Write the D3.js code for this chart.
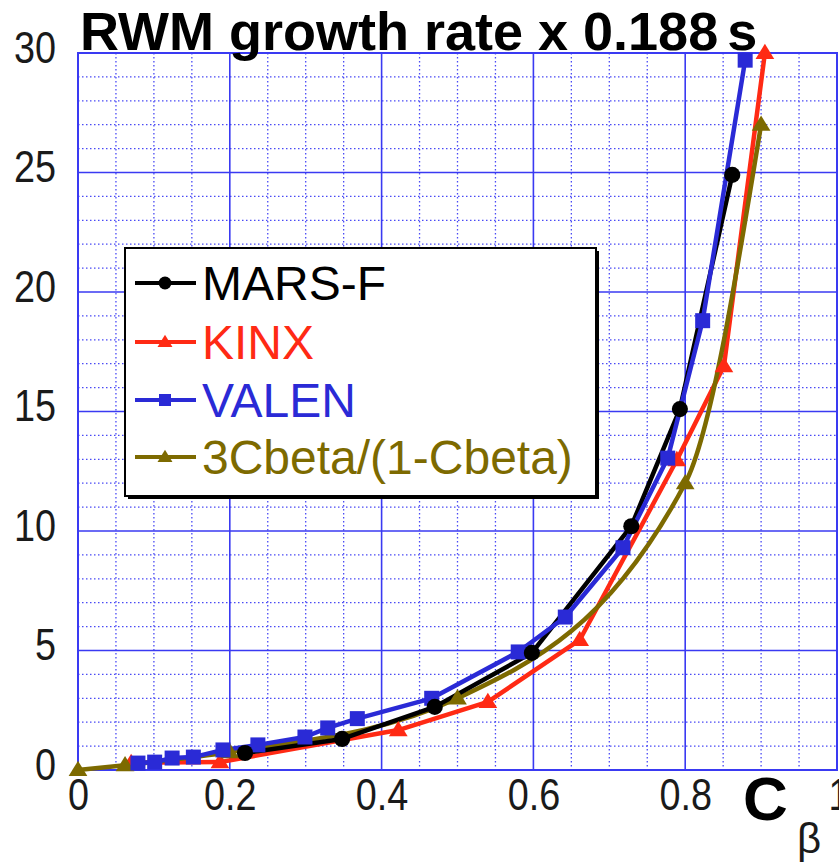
<!DOCTYPE html>
<html>
<head>
<meta charset="utf-8">
<script src="https://cdn.jsdelivr.net/npm/d3@7/dist/d3.min.js"></script>
<style>
  html, body { margin: 0; padding: 0; background: #fff; }
  svg { display: block; }
</style>
</head>
<body>
<svg id="chart" width="839" height="863"></svg>
<script>
// Growth-rate data (x = C_beta, y = growth rate x 0.188 s)
const marsC  = [0.22, 0.348, 0.47, 0.598, 0.729, 0.793, 0.862];
const marsG  = [0.71, 1.3, 2.64, 4.9, 10.2, 15.1, 24.9];

const kinxC  = [0.07, 0.187, 0.422, 0.54, 0.661, 0.789, 0.851, 0.905];
const kinxG  = [0.3, 0.33, 1.67, 2.85, 5.44, 12.97, 16.9, 30.0];

const valenC = [0.079, 0.101, 0.124, 0.152, 0.191, 0.237, 0.299, 0.329, 0.368, 0.466, 0.58, 0.642, 0.718, 0.777, 0.823, 0.879];
const valenG = [0.29, 0.33, 0.5, 0.54, 0.84, 1.05, 1.38, 1.76, 2.15, 3.0, 4.94, 6.4, 9.3, 13.05, 18.8, 29.7];

const modelC = [0, 0.062, 0.2, 0.5, 0.8, 0.9];
const modelG = [0, 0.2, 0.75, 3.0, 12.0, 27.0];

const seriesNames = ["MARS-F", "KINX", "VALEN", "3Cbeta/(1-Cbeta)"];
const xTicks = [0, 0.2, 0.4, 0.6, 0.8, 1];
const xTickLabels = ["0", "0.2", "0.4", "0.6", "0.8", "1"];
const yTicks = [0, 5, 10, 15, 20, 25, 30];
const yTickLabels = ["0", "5", "10", "15", "20", "25", "30"];

const svg = d3.select("#chart");
const plot = { left: 78, top: 53, right: 837, bottom: 770 };

const x = d3.scaleLinear().domain([0, 1]).range([plot.left, plot.right]);
const y = d3.scaleLinear().domain([0, 30]).range([plot.bottom, plot.top]);

const gridBlue = "#3a3af2";
const labelFont = "'Liberation Sans', Arial, Helvetica, sans-serif";
const mainFont = "'Liberation Sans', Arial, Helvetica, sans-serif";

// narrow a text element horizontally around its anchor
function condense(sel, factor) {
  sel.each(function () {
    const len = this.getComputedTextLength();
    d3.select(this).attr("textLength", len * factor).attr("lengthAdjust", "spacingAndGlyphs");
  });
}

// ---- grid ----
const grid = svg.append("g");
const xMinor = d3.range(0.05, 1, 0.05).filter(v => Math.abs(v * 5 - Math.round(v * 5)) > 1e-6);
const yMinor = d3.range(1, 30, 1).filter(v => v % 5 !== 0);

grid.selectAll(".xminor").data(xMinor).join("line")
  .attr("x1", d => x(d)).attr("x2", d => x(d))
  .attr("y1", plot.top).attr("y2", plot.bottom)
  .attr("stroke", "#4a4af5").attr("stroke-width", 1.3)
  .attr("stroke-dasharray", "1.5,2.5");
grid.selectAll(".yminor").data(yMinor).join("line")
  .attr("y1", d => y(d)).attr("y2", d => y(d))
  .attr("x1", plot.left).attr("x2", plot.right)
  .attr("stroke", "#4a4af5").attr("stroke-width", 1.3)
  .attr("stroke-dasharray", "1.5,2.5");
grid.selectAll(".xmajor").data(xTicks.slice(1, -1)).join("line")
  .attr("x1", d => x(d)).attr("x2", d => x(d))
  .attr("y1", plot.top).attr("y2", plot.bottom)
  .attr("stroke", gridBlue).attr("stroke-width", 1.6);
grid.selectAll(".ymajor").data(yTicks.slice(1, -1)).join("line")
  .attr("y1", d => y(d)).attr("y2", d => y(d))
  .attr("x1", plot.left).attr("x2", plot.right)
  .attr("stroke", gridBlue).attr("stroke-width", 1.6);
grid.append("rect")
  .attr("x", x(0)).attr("y", y(30))
  .attr("width", x(1) - x(0)).attr("height", y(0) - y(30))
  .attr("fill", "none").attr("stroke", gridBlue).attr("stroke-width", 2);

// ---- axes (labels only) ----
const xAxis = svg.append("g")
  .attr("transform", `translate(0,${plot.bottom})`)
  .call(d3.axisBottom(x).tickValues(xTicks).tickSize(0).tickPadding(0)
    .tickFormat((d, i) => xTickLabels[i]));
xAxis.select(".domain").remove();
xAxis.selectAll("text")
  .attr("y", 40).attr("dy", 0)
  .attr("font-family", labelFont).attr("font-size", 45).attr("fill", "#1a1a1a")
  .call(condense, 0.84);
// the "1" label sits right on the frame edge
xAxis.selectAll(".tick").filter(d => d === 1).select("text")
  .attr("text-anchor", "start").attr("x", -9);

const yAxis = svg.append("g")
  .attr("transform", `translate(56,0)`)
  .call(d3.axisLeft(y).tickValues(yTicks).tickSize(0).tickPadding(0)
    .tickFormat((d, i) => yTickLabels[i]));
yAxis.select(".domain").remove();
yAxis.selectAll("text")
  .attr("x", 0).attr("dy", 9)
  .attr("font-family", labelFont).attr("font-size", 45).attr("fill", "#1a1a1a")
  .call(condense, 0.84);

// axis symbol C_beta
svg.append("text")
  .attr("x", 743).attr("y", 820)
  .attr("font-family", mainFont).attr("font-weight", "bold")
  .attr("font-size", 62).attr("fill", "#000").text("C");
svg.append("text")
  .attr("x", 797).attr("y", 853)
  .attr("font-family", labelFont).attr("font-size", 42)
  .attr("fill", "#1a1a1a").text("β");

// ---- title ----
const title = svg.append("text")
  .attr("x", 80).attr("y", 50)
  .attr("font-family", mainFont).attr("font-weight", "bold")
  .attr("font-size", 54).attr("fill", "#000");
title.append("tspan").text("RWM growth rate x 0.188");
title.append("tspan").attr("dx", 9).text("s");

// ---- series ----
const series = [
  { name: seriesNames[0], xs: marsC,  ys: marsG,  color: "#000000", marker: "circle",   curve: d3.curveLinear },
  { name: seriesNames[1], xs: kinxC,  ys: kinxG,  color: "#ff2a14", marker: "triangle", curve: d3.curveLinear },
  { name: seriesNames[2], xs: valenC, ys: valenG, color: "#2a2ad6", marker: "square",   curve: d3.curveLinear },
  { name: seriesNames[3], xs: modelC, ys: modelG, color: "#7d6a00", marker: "triangle", curve: d3.curveMonotoneX }
];
series.forEach(s => { s.pts = s.xs.map((v, i) => [v, s.ys[i]]); });

function markerPath(type, size) {
  if (type === "circle") return d3.symbol(d3.symbolCircle, size * size * 0.8)();
  if (type === "square") return d3.symbol(d3.symbolSquare, size * size)();
  const h = size * 0.9, w = size * 1.1;
  return `M0,${-h * 0.6}L${w / 2},${h * 0.4}L${-w / 2},${h * 0.4}Z`;
}
const markerSize = { circle: 16, square: 15, triangle: 17 };

const lineGen = s => d3.line().curve(s.curve).x(d => x(d[0])).y(d => y(d[1]))(s.pts);

const lineOrder = [1, 3, 0, 2];
const markerOrder = [1, 3, 2, 0];
const lines = svg.append("g");
lineOrder.forEach(k => {
  const s = series[k];
  lines.append("path").attr("d", lineGen(s))
    .attr("fill", "none").attr("stroke", s.color)
    .attr("stroke-width", 4.5).attr("stroke-linejoin", "round");
});
const marks = svg.append("g");
markerOrder.forEach(k => {
  const s = series[k];
  marks.selectAll(null).data(s.pts).join("path")
    .attr("transform", d => `translate(${x(d[0])},${y(d[1])})`)
    .attr("d", markerPath(s.marker, markerSize[s.marker]))
    .attr("fill", s.color);
});

// ---- legend ----
const leg = svg.append("g");
const lb = { x: 125, y: 248, w: 471, h: 248 };
leg.append("rect").attr("x", lb.x + 3).attr("y", lb.y + 3)
  .attr("width", lb.w).attr("height", lb.h).attr("fill", "#000");
leg.append("rect").attr("x", lb.x).attr("y", lb.y)
  .attr("width", lb.w).attr("height", lb.h)
  .attr("fill", "#fff").attr("stroke", "#000").attr("stroke-width", 2);

const rowY = [283, 342, 400, 457];
series.forEach((s, i) => {
  const g = leg.append("g").attr("transform", `translate(0,${rowY[i]})`);
  g.append("line").attr("x1", 135).attr("x2", 196).attr("y1", 0).attr("y2", 0)
    .attr("stroke", s.color).attr("stroke-width", 4);
  g.append("path").attr("transform", "translate(165,0)")
    .attr("d", markerPath(s.marker, markerSize[s.marker] * 0.8))
    .attr("fill", s.color);
  g.append("text").attr("x", 202).attr("y", 17)
    .attr("font-family", mainFont).attr("font-size", 48)
    .attr("fill", s.color).text(s.name);
});
</script>
</body>
</html>
